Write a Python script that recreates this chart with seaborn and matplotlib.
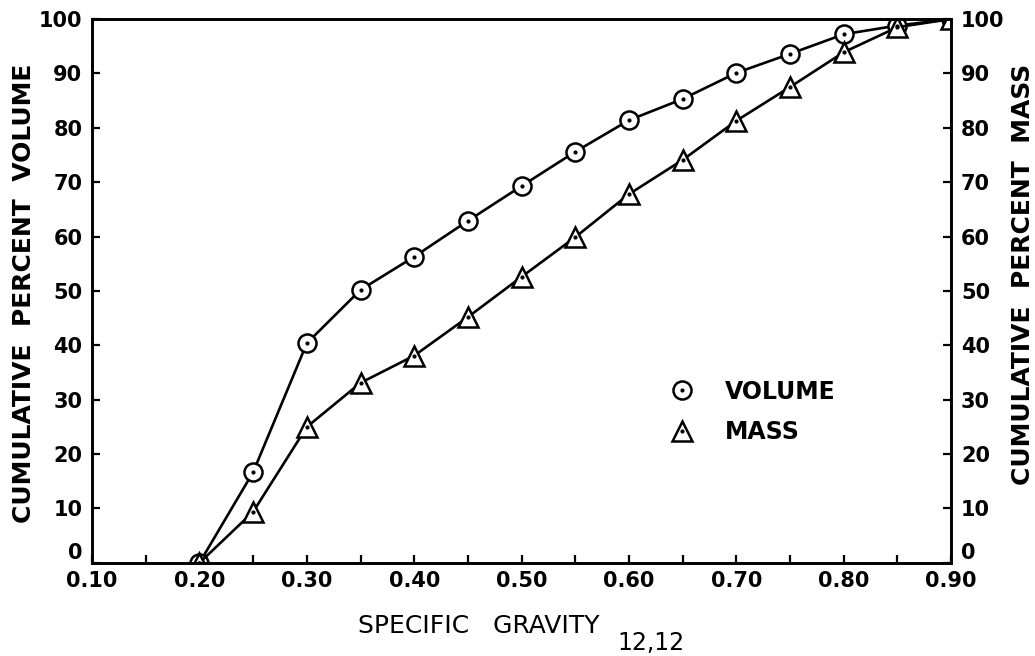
import matplotlib
matplotlib.use("Agg")

import matplotlib.pyplot as plt
import pandas as pd
import seaborn as sns
from matplotlib.legend_handler import HandlerTuple
from matplotlib.lines import Line2D


specific_gravity = [0.20, 0.25, 0.30, 0.35, 0.40, 0.45, 0.50, 0.55,
                    0.60, 0.65, 0.70, 0.75, 0.80, 0.85, 0.90]
volume_pct = [0.0, 16.7, 40.4, 50.2, 56.3, 62.9, 69.3, 75.6,
              81.4, 85.3, 90.1, 93.6, 97.2, 98.8, 100.0]
mass_pct = [0.0, 9.4, 25.0, 33.1, 38.1, 45.2, 52.6, 59.9,
            67.8, 74.1, 81.3, 87.5, 93.9, 98.5, 100.0]

x_ticks = [0.10, 0.15, 0.20, 0.25, 0.30, 0.35, 0.40, 0.45,
           0.50, 0.55, 0.60, 0.65, 0.70, 0.75, 0.80, 0.85, 0.90]
x_labels = ["0.10", "", "0.20", "", "0.30", "", "0.40", "", "0.50", "",
            "0.60", "", "0.70", "", "0.80", "", "0.90"]
y_ticks = [0, 10, 20, 30, 40, 50, 60, 70, 80, 90, 100]

sns.set_theme(style="ticks")
plt.rcParams["font.family"] = ["DejaVu Sans"]
plt.rcParams["text.color"] = "black"
plt.rcParams["axes.labelcolor"] = "black"
plt.rcParams["xtick.color"] = "black"
plt.rcParams["ytick.color"] = "black"

df = pd.DataFrame({
    "sg": specific_gravity,
    "volume": volume_pct,
    "mass": mass_pct,
})

fig = plt.figure(figsize=(10.35, 6.56), dpi=100)
ax = fig.add_axes([0.089, 0.142, 0.830, 0.829])

line_kw = dict(
    color="black",
    linewidth=1.9,
    markerfacecolor="white",
    markeredgecolor="black",
    markeredgewidth=1.8,
)

sns.lineplot(data=df, x="sg", y="volume", marker="o", markersize=13,
             ax=ax, legend=False, **line_kw)
sns.lineplot(data=df, x="sg", y="mass", marker="^", markersize=15,
             ax=ax, legend=False, **line_kw)

# centre dots inside the open markers
ax.plot(df["sg"], df["volume"], ls="none", marker="o", ms=2, color="black")
ax.plot(df["sg"], df["mass"], ls="none", marker="o", ms=2, color="black")

ax.set_xlim(0.10, 0.90)
ax.set_ylim(0, 100)
ax.set_xticks(x_ticks)
ax.set_xticklabels(x_labels)
ax.set_yticks(y_ticks)

ax.tick_params(axis="both", direction="in", length=6, width=1.6,
               labelsize=15)
ax.tick_params(axis="x", pad=6)
ax.tick_params(axis="y", pad=7)
for lab in ax.get_xticklabels() + ax.get_yticklabels():
    lab.set_fontweight("bold")
for side in ["left", "right", "top", "bottom"]:
    ax.spines[side].set_visible(True)
    ax.spines[side].set_linewidth(1.9)
    ax.spines[side].set_color("black")

ax2 = ax.twinx()
ax2.set_ylim(0, 100)
ax2.set_yticks(y_ticks)
ax2.tick_params(axis="y", direction="in", length=6, width=1.6, pad=7,
                labelsize=15)
for lab in ax2.get_yticklabels():
    lab.set_fontweight("bold")
for side in ["left", "right", "top", "bottom"]:
    ax2.spines[side].set_linewidth(1.9)
    ax2.spines[side].set_color("black")

# the "0" labels sit just above the bottom spine
ax.get_yticklabels()[0].set_va("bottom")
ax2.get_yticklabels()[0].set_va("bottom")

ax.set_xlabel("")
ax.set_ylabel("CUMULATIVE  PERCENT  VOLUME", fontsize=18,
              fontweight="bold")
ax.yaxis.set_label_coords(-0.079, 0.495)
ax.yaxis.label.set_va("center")
ax2.set_ylabel("CUMULATIVE  PERCENT  MASS", fontsize=18,
               fontweight="bold")
ax2.yaxis.set_label_coords(1.084, 0.53)
ax2.yaxis.label.set_va("center")

fig.text(0.346, 0.046, "SPECIFIC   GRAVITY", fontsize=18,
         ha="left", va="center")
fig.text(0.597, 0.020, "12,12", fontsize=17, ha="left", va="center")

vol_handle = (
    Line2D([], [], ls="none", marker="o", ms=13, mfc="white",
           mec="black", mew=1.8),
    Line2D([], [], ls="none", marker="o", ms=2, color="black"),
)
mass_handle = (
    Line2D([], [], ls="none", marker="^", ms=14, mfc="white",
           mec="black", mew=1.8),
    Line2D([], [], ls="none", marker="o", ms=2, color="black"),
)
ax.legend(
    [vol_handle, mass_handle],
    ["VOLUME", "MASS"],
    handler_map={tuple: HandlerTuple(ndivide=1)},
    loc="upper left",
    bbox_to_anchor=(0.646, 0.376),
    frameon=False,
    prop={"size": 17, "weight": "bold"},
    handlelength=1.2,
    handletextpad=1.2,
    labelspacing=0.7,
)

fig.savefig("out.png", dpi=100)
